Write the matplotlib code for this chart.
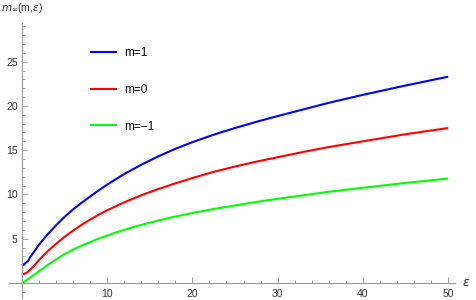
import matplotlib.pyplot as plt
from matplotlib.ticker import MultipleLocator

# --- values ---
eps = [0, 0.25, 0.5, 0.75, 1, 1.5, 2, 2.5, 3, 4, 5, 6, 7, 8, 9, 10, 12, 14, 16, 18,
       20, 22.5, 25, 27.5, 30, 33, 36, 40, 45, 50]
m_pos = [2.0, 2.1, 2.3, 2.5, 2.95, 3.6, 4.3, 4.9, 5.45, 6.5, 7.45, 8.3, 9.05, 9.75, 10.45, 11.1,
         12.3, 13.35, 14.3, 15.15, 15.9, 16.75, 17.5, 18.2, 18.85, 19.6, 20.35, 21.25, 22.3, 23.3]
m_zero = [1.0, 1.03, 1.12, 1.28, 1.5, 2.0, 2.55, 3.05, 3.55, 4.4, 5.2, 5.9, 6.55, 7.15, 7.7, 8.2,
          9.1, 9.9, 10.6, 11.25, 11.85, 12.55, 13.15, 13.7, 14.2, 14.8, 15.35, 16.0, 16.8, 17.5]
m_neg = [0.0, 0.12, 0.27, 0.43, 0.6, 0.95, 1.3, 1.65, 2.0, 2.65, 3.25, 3.75, 4.2, 4.6, 5.0, 5.35,
         6.0, 6.55, 7.05, 7.5, 7.9, 8.35, 8.75, 9.15, 9.5, 9.9, 10.3, 10.75, 11.3, 11.8]

labels = ['m=1', 'm=0', 'm=\u22121']
colors = ['#0000ff', '#ff0000', '#00ff00']

plt.rcParams['font.family'] = ['Liberation Sans', 'DejaVu Sans']

W, H = 476, 300
fig = plt.figure(figsize=(W / 100, H / 100), dpi=100)
ax = fig.add_axes([9 / W, 2 / H, 446 / W, 275.3 / H])

for ys, lab, c in zip([m_pos, m_zero, m_neg], labels, colors):
    ax.plot(eps, ys, color=c, lw=1.5, label=lab, solid_capstyle='butt')

ax.set_xlim(-1.5, 50.8)
ax.set_ylim(-1.7, 29.4)

# Mathematica-like axes crossing at the origin
axis_col = '#999999'
for s in ['top', 'right']:
    ax.spines[s].set_visible(False)
for s in ['left', 'bottom']:
    ax.spines[s].set_position('zero')
    ax.spines[s].set_color(axis_col)
    ax.spines[s].set_linewidth(0.8)

ax.xaxis.set_minor_locator(MultipleLocator(2))
ax.yaxis.set_minor_locator(MultipleLocator(1))
ax.set_xticks([10, 20, 30, 40, 50])
ax.set_yticks([5, 10, 15, 20, 25])
ax.tick_params(which='both', direction='in', color=axis_col, width=0.6,
               labelsize=7.5, labelcolor='#333333')
ax.tick_params(which='major', length=4, pad=3)
ax.tick_params(which='minor', length=2.3)
ax.tick_params(axis='x', which='major', pad=4)

fig.text(1 / W, 1 - 8 / H, r'$m_\infty$(m,$\epsilon$)', fontsize=7.5,
         color='#333333', ha='left', va='center')
ax.text(51.6, 0, r'$\epsilon$', fontsize=9, color='#333333', ha='left', va='center')

ax.legend(loc='upper left', bbox_to_anchor=(90 / W, 1 - 47 / H),
          bbox_transform=fig.transFigure, frameon=False, fontsize=8.5,
          handlelength=2.3, handletextpad=0.6, labelspacing=2.1,
          borderpad=0, borderaxespad=0)

fig.savefig('out.png', dpi=100)
